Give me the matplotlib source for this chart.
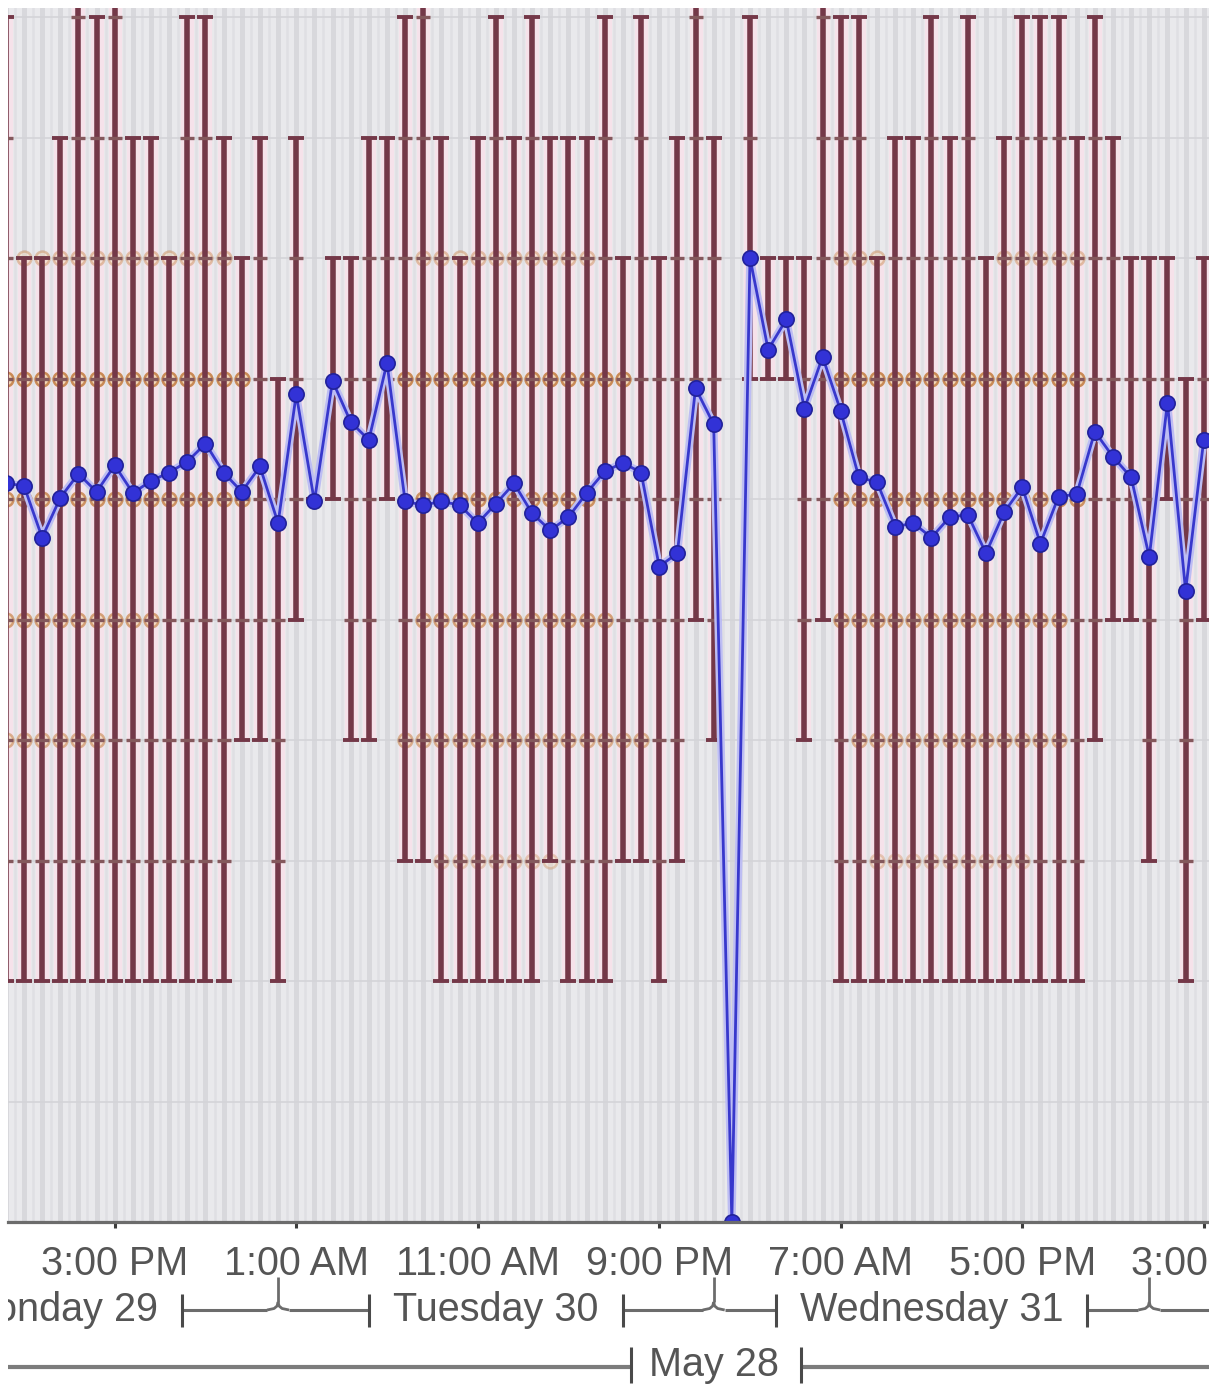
import matplotlib
matplotlib.use("Agg")
import matplotlib.pyplot as plt
import numpy as np
from matplotlib.lines import Line2D
from matplotlib.transforms import Bbox

W, H, DPI = 1209, 1387, 100
plt.rcParams['font.family'] = ['Liberation Sans', 'DejaVu Sans']

# ---------------- data (hourly, starting Monday 29, 9:00 AM) ----------------
hour_index = np.arange(67)
blue = [6.13, 6.11, 5.68, 6.01, 6.21, 6.06, 6.28, 6.05, 6.15, 6.22,
        6.31, 6.46, 6.22, 6.06, 6.27, 5.80, 6.87, 5.98, 6.98, 6.64,
        6.49, 7.13, 5.98, 5.95, 5.98, 5.95, 5.80, 5.96, 6.13, 5.88,
        5.74, 5.85, 6.05, 6.23, 6.30, 6.22, 5.44, 5.55, 6.92, 6.62,
        0.00, 8.00, 7.24, 7.49, 6.75, 7.18, 6.73, 6.18, 6.14, 5.77,
        5.80, 5.68, 5.85, 5.87, 5.55, 5.89, 6.10, 5.63, 6.02, 6.04,
        6.56, 6.35, 6.18, 5.52, 6.80, 5.24, 6.49]
nan = np.nan
err_low = [2, 2, 2, 2, 2, 2, 2, 2, 2, 2,
           2, 2, 2, 4, 4, 2, 5, 6, 6, 4,
           4, 6, 3, 3, 2, 2, 2, 2, 2, 2,
           3, 2, 2, 2, 3, 3, 2, 3, 5, 4,
           nan, 7, 7, 7, 4, 5, 2, 2, 2, 2,
           2, 2, 2, 2, 2, 2, 2, 2, 2, 2,
           4, 5, 5, 3, 6, 2, 5]
err_high = [10, 8, 8, 9, 10.6, 10, 10.6, 9, 9, 8,
            10, 10, 9, 8, 9, 7, 9, 6, 8, 8,
            9, 9, 10, 10.6, 9, 8, 9, 10, 9, 10,
            9, 9, 9, 10, 8, 10, 8, 9, 10.6, 9,
            nan, 10, 8, 8, 8, 10.6, 10, 10, 8, 9,
            9, 10, 9, 10, 8, 9, 10, 10, 10, 9,
            10, 9, 8, 8, 8, 7, 8]
# hours that show a round marker at a given level
circle_hours = {
    7: list(range(0, 14)) + list(range(22, 35)) + list(range(46, 60)),
    6: list(range(0, 14)) + list(range(23, 33)) + list(range(46, 60)),
    5: list(range(0, 9)) + list(range(23, 34)) + list(range(46, 59)),
    4: list(range(0, 6)) + list(range(22, 36)) + list(range(47, 59)),
    8: list(range(1, 13)) + list(range(23, 33)) + list(range(46, 49)) + list(range(55, 60)),
    3: list(range(24, 31)) + list(range(48, 57)),
}
circle_strength = {7: 1.0, 6: 0.9, 5: 0.75, 4: 0.6, 8: 0.45, 3: 0.35}
tick_pos = [6, 16, 26, 36, 46, 56, 66]
tick_labels = ["3:00 PM", "1:00 AM", "11:00 AM", "9:00 PM", "7:00 AM", "5:00 PM", "3:00 AM"]
day_labels = ["Monday 29", "Tuesday 30", "Wednesday 31", "Thursday 1"]
day_centers = [3, 27, 51, 75]
day_bounds = [15, 39, 63]
week_label = "May 28"
week_center = 39

# ---------------- figure ----------------
fig = plt.figure(figsize=(W / DPI, H / DPI), dpi=DPI)
fig.patch.set_facecolor('white')
ax = fig.add_axes([8 / W, 1 - 1222 / H, (W - 8) / W, (1222 - 8) / H])
ax.set_xlim(0.12, 66.29)
ax.set_ylim(0, 10.075)
ax.set_facecolor('#e9e9ec')

# background stripes / grid
ax.vlines(np.arange(-1, 68), 0, 10.2, color='#d8d8dc', lw=3.6, zorder=0.5)
ax.vlines(np.arange(-1, 68) + 0.5, 0, 10.2, color='#dfdfe3', lw=1.8, zorder=0.5)
ax.hlines(np.arange(1, 11), -1, 68, color='#d4d4d8', lw=1.2, zorder=0.6)

x = hour_index.astype(float)
lo = np.array(err_low, dtype=float)
hi = np.array(err_high, dtype=float)
ok = ~np.isnan(lo)

# pink halo behind the bars
ax.vlines(x[ok], lo[ok], hi[ok], color='#f6e2ea', lw=9.5, zorder=1)

# round markers at levels
for lvl, hrs in circle_hours.items():
    a = circle_strength[lvl]
    ax.plot(hrs, [lvl] * len(hrs), ls='none', marker='o', ms=10,
            mfc='#f2d7b8', mec='#c98a55', mew=1.8, zorder=2, alpha=a)

# error bars
ax.errorbar(x[ok], lo[ok], yerr=[np.zeros(ok.sum()), hi[ok] - lo[ok]], fmt='none',
            ecolor='#743848', elinewidth=4.0, capsize=5.5, capthick=2.8, zorder=3)

# dashes at interior integer levels
dx, dy = [], []
for xi, l, h in zip(x[ok], lo[ok], hi[ok]):
    for lvl in range(int(l) + 1, int(np.ceil(h))):
        if lvl <= 10:
            dx.append(xi)
            dy.append(lvl)
ax.plot(dx, dy, ls='none', marker='_', ms=10, mew=2.4, color='#84585c', zorder=4)

# blue series
ax.plot(x, blue, color='#bdbdf3', lw=5.5, zorder=5, solid_joinstyle='round')
ax.plot(x, blue, color='#3838cc', lw=2.0, marker='o', ms=11,
        mfc='#3232d6', mec='#22229a', mew=1.2, zorder=6)

# axes styling
for s in ['left', 'right', 'top']:
    ax.spines[s].set_visible(False)
ax.spines['bottom'].set_color('#6c6c6c')
ax.spines['bottom'].set_linewidth(2.3)
ax.spines['bottom'].set_zorder(8)
ax.set_yticks([])
ax.set_xticks(tick_pos)
ax.set_xticklabels(tick_labels)
ax.tick_params(axis='x', direction='out', length=4.5, width=2.2, color='#3c3c3c',
               labelsize=28.5, labelcolor='#555555', pad=12)

# ---------------- lower bracket rows ----------------
def fl(xs, ys, lw, color):
    fig.add_artist(Line2D([v / W for v in xs], [1 - v / H for v in ys],
                          transform=fig.transFigure, lw=lw, color=color,
                          solid_capstyle='butt'))

def dpx(v):
    return ax.transData.transform((v, 0))[0]

clip = Bbox([[8, 0], [W, H]])
fig.canvas.draw()
r = fig.canvas.get_renderer()
gap = 24
day_texts = []
for lab, c in zip(day_labels, day_centers):
    t = fig.text(dpx(c) / W, 1 - 1321 / H, lab, ha='center', va='baseline',
                 fontsize=28.5, color='#555555')
    t.set_clip_box(clip)
    t.set_clip_on(True)
    day_texts.append(t)
ext = [t.get_window_extent(r) for t in day_texts]
ly = 1310
for i, b in enumerate(day_bounds):
    x0 = ext[i].x1 + gap
    x1 = ext[i + 1].x0 - gap
    bp = dpx(b)
    fl([x0, bp - 11], [ly, ly], 2.2, '#6c6c6c')
    fl([bp + 11, x1], [ly, ly], 2.2, '#6c6c6c')
    fl([bp - 11, bp - 4, bp - 1, bp], [ly, ly - 1.5, ly - 4, ly - 8], 2.0, '#6c6c6c')
    fl([bp + 11, bp + 4, bp + 1, bp], [ly, ly - 1.5, ly - 4, ly - 8], 2.0, '#6c6c6c')
    fl([bp, bp], [ly - 8, ly - 33], 2.0, '#6c6c6c')
    fl([x0, x0], [ly - 16, ly + 17], 2.2, '#4a4a4a')
    fl([x1, x1], [ly - 16, ly + 17], 2.2, '#4a4a4a')

wt = fig.text(dpx(week_center) / W, 1 - 1376 / H, week_label, ha='center',
              va='baseline', fontsize=28.5, color='#555555')
we = wt.get_window_extent(r)
wy = 1367
fl([8, we.x0 - 18], [wy, wy], 3.0, '#7c7c7c')
fl([we.x1 + 22, W + 5], [wy, wy], 3.0, '#7c7c7c')
fl([we.x0 - 18, we.x0 - 18], [wy - 20, wy + 16], 2.2, '#4a4a4a')
fl([we.x1 + 22, we.x1 + 22], [wy - 20, wy + 16], 2.2, '#4a4a4a')

fig.savefig('out.png', dpi=DPI, facecolor='white')
